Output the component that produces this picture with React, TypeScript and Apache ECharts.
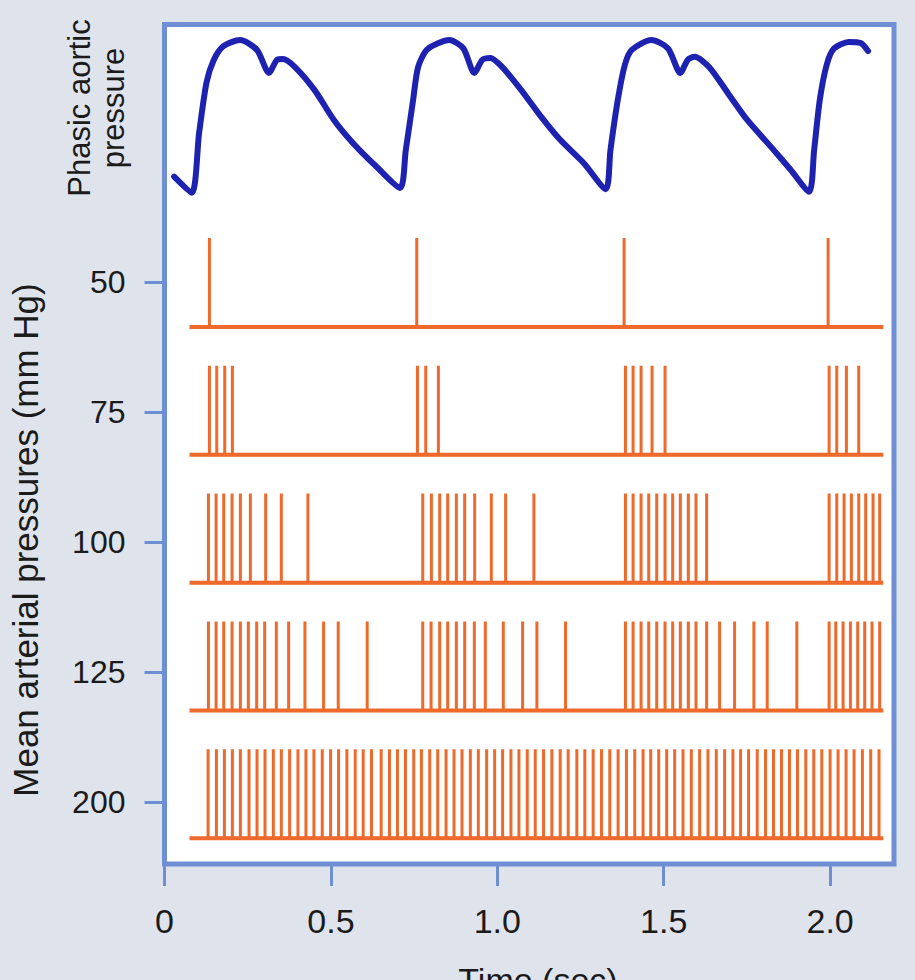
import React, { useEffect, useRef } from "react";
import * as echarts from "echarts";

// ---------- data ----------
const timeTicks = [0, 0.5, 1.0, 1.5, 2.0];
const timeTickLabels = ["0", "0.5", "1.0", "1.5", "2.0"];
const pressureLevels = ["50", "75", "100", "125", "200"];

// phasic aortic pressure trace (time in s, relative pressure)
const aorticTime = [
  0.029, 0.082, 0.104, 0.126, 0.147, 0.177, 0.227, 0.278, 0.314, 0.338, 0.356, 0.392, 0.451, 0.509, 0.566, 0.638, 0.708,
  0.725, 0.747, 0.762, 0.79, 0.856, 0.898, 0.931, 0.955, 0.979, 1.015, 1.072, 1.132, 1.189, 1.26, 1.326,
  1.34, 1.362, 1.383, 1.404, 1.463, 1.513, 1.55, 1.572, 1.593, 1.637, 1.693, 1.751, 1.823, 1.882, 1.937,
  1.952, 1.969, 1.99, 2.012, 2.056, 2.092, 2.114,
];
const aorticPressure = [
  84.3, 80.1, 95.7, 108.8, 114.6, 118.4, 120, 117.4, 111.4, 114.8, 115.0, 112.9, 106.9, 99.1, 93.1, 86.8, 81.3,
  91.2, 104.3, 112.9, 117.6, 120, 117.8, 111.4, 114.8, 115.3, 112.9, 106.9, 99.9, 93.9, 87.8, 81.0,
  91.2, 104.3, 113.4, 117.4, 120, 117.8, 111.4, 114.8, 115.6, 112.9, 106.1, 99.1, 92.0, 86.0, 80.3,
  91.2, 104.3, 113.6, 117.8, 119.5, 119.2, 117.1,
];

// nerve impulse times (s) at each mean arterial pressure
const spikes50 = [0.135, 0.758, 1.381, 1.994];
const spikes75 = [
  0.135, 0.157, 0.181, 0.204,
  0.76, 0.785, 0.823,
  1.385, 1.408, 1.432, 1.465, 1.504,
  1.997, 2.02, 2.049, 2.086,
];
const spikes100 = [
  0.132, 0.155, 0.178, 0.203, 0.228, 0.258, 0.304, 0.351, 0.431,
  0.776, 0.802, 0.827, 0.851, 0.877, 0.902, 0.932, 0.982, 1.025, 1.11,
  1.385, 1.408, 1.432, 1.455, 1.479, 1.504, 1.527, 1.55, 1.574, 1.597, 1.629,
  1.997, 2.02, 2.042, 2.064, 2.086, 2.107, 2.129, 2.149,
];
const spikes125 = [
  0.132, 0.155, 0.178, 0.203, 0.228, 0.252, 0.277, 0.301, 0.336, 0.373, 0.422, 0.478, 0.522, 0.609,
  0.776, 0.801, 0.827, 0.851, 0.877, 0.902, 0.931, 0.964, 1.018, 1.076, 1.119, 1.205,
  1.385, 1.408, 1.432, 1.455, 1.479, 1.504, 1.527, 1.55, 1.574, 1.597, 1.629, 1.668, 1.713, 1.771, 1.811, 1.9,
  1.997, 2.017, 2.039, 2.061, 2.083, 2.104, 2.126, 2.149,
];
const spikes200 = [
  0.131, 0.156, 0.18, 0.204, 0.228, 0.254, 0.278, 0.302, 0.327, 0.351, 0.376, 0.401, 0.425, 0.449, 0.474, 0.499,
  0.523, 0.548, 0.573, 0.597, 0.622,
  0.651, 0.676, 0.7, 0.724, 0.749, 0.772, 0.797, 0.821, 0.846, 0.87, 0.894, 0.919, 0.943, 0.968, 0.992, 1.016,
  1.041, 1.065, 1.09, 1.114, 1.139,
  1.164, 1.189, 1.213, 1.239, 1.263, 1.288, 1.313, 1.338, 1.363, 1.388, 1.413, 1.438, 1.461, 1.485, 1.509, 1.533,
  1.558, 1.583, 1.608, 1.633, 1.658,
  1.683, 1.708, 1.731, 1.755, 1.781, 1.806, 1.83, 1.854, 1.878, 1.902, 1.927, 1.951, 1.975, 2.0, 2.024, 2.048,
  2.072, 2.097, 2.122, 2.147,
];
const spikeTrains = [spikes50, spikes75, spikes100, spikes125, spikes200];
const traceStart = 0.075;
const traceEnd = 2.16;

// ---------- layout / style ----------
const ORANGE = "#ee6a2c";
const BLUE_TRACE = "#1e22b0";
const FRAME = "#6f8fd4";
const TEXT = "#1b1b1b";
const FONT = "Liberation Sans, Arial, Helvetica, sans-serif";
const ROW_FIRST_BASE = 2.347;
const ROW_STEP = 0.983;
const SPIKE_HEIGHT = 0.685;

export default function App() {
  const ref = useRef<HTMLDivElement>(null);

  useEffect(() => {
    if (!ref.current) return;
    const chart = echarts.init(ref.current, null, { renderer: "svg" });

    const rowSeries: any[] = [];
    spikeTrains.forEach((train, i) => {
      const base = ROW_FIRST_BASE + i * ROW_STEP;
      const top = base - SPIKE_HEIGHT;
      const pts: number[][] = [];
      train.forEach((t) => {
        pts.push([t, base], [t, top], [t, base]);
      });
      rowSeries.push({
        type: "line",
        xAxisIndex: 0,
        yAxisIndex: 0,
        data: pts,
        symbol: "none",
        silent: true,
        lineStyle: { color: ORANGE, width: 3, join: "miter" },
      });
      rowSeries.push({
        type: "line",
        xAxisIndex: 0,
        yAxisIndex: 0,
        data: [
          [traceStart, base],
          [traceEnd, base],
        ],
        symbol: "none",
        silent: true,
        lineStyle: { color: ORANGE, width: 4 },
      });
    });

    const option: any = {
      animation: false,
      backgroundColor: "transparent",
      grid: {
        left: 164.5,
        right: 21,
        top: 24.5,
        bottom: 116,
        show: true,
        backgroundColor: "#ffffff",
        borderColor: FRAME,
        borderWidth: 5,
      },
      xAxis: {
        type: "value",
        min: 0,
        max: 2.192,
        axisLine: { show: false, onZero: false },
        splitLine: { show: false },
        axisTick: {
          show: true,
          inside: false,
          length: 22,
          customValues: timeTicks,
          lineStyle: { color: FRAME, width: 3 },
        },
        axisLabel: {
          customValues: timeTicks,
          margin: 40,
          fontSize: 34,
          color: TEXT,
          fontFamily: FONT,
          formatter: (v: number) => timeTickLabels[timeTicks.findIndex((t) => Math.abs(t - v) < 1e-6)] ?? "",
        },
      },
      yAxis: [
        {
          type: "value",
          inverse: true,
          min: 0.02,
          max: 6.477,
          axisLine: { show: false, onZero: false },
          splitLine: { show: false },
          axisTick: {
            show: true,
            inside: false,
            length: 20,
            customValues: [2, 3, 4, 5, 6],
            lineStyle: { color: FRAME, width: 3 },
          },
          axisLabel: {
            customValues: [2, 3, 4, 5, 6],
            margin: 39,
            fontSize: 32,
            color: TEXT,
            fontFamily: FONT,
            formatter: (v: number) => pressureLevels[Math.round(v) - 2] ?? "",
          },
        },
        {
          type: "value",
          min: -95.4,
          max: 124.05,
          show: false,
          splitLine: { show: false },
        },
      ],
      graphic: [
        {
          type: "text",
          x: 25,
          y: 540,
          rotation: Math.PI / 2,
          style: {
            text: "Mean arterial pressures (mm Hg)",
            fontSize: 35,
            fontFamily: FONT,
            fill: TEXT,
            align: "center",
            verticalAlign: "middle",
          },
        },
        {
          type: "text",
          x: 96,
          y: 108,
          rotation: Math.PI / 2,
          style: {
            text: "Phasic aortic\npressure",
            fontSize: 31,
            lineHeight: 34,
            fontFamily: FONT,
            fill: TEXT,
            align: "center",
            verticalAlign: "middle",
          },
        },
        {
          type: "text",
          x: 538,
          y: 963,
          style: {
            text: "Time (sec)",
            fontSize: 34,
            fontFamily: FONT,
            fill: TEXT,
            align: "center",
            verticalAlign: "top",
          },
        },
      ],
      series: [
        ...rowSeries,
        {
          type: "line",
          xAxisIndex: 0,
          yAxisIndex: 1,
          data: aorticTime.map((t, i) => [t, aorticPressure[i]]),
          symbol: "none",
          smooth: 0.25,
          silent: true,
          lineStyle: { color: BLUE_TRACE, width: 6, cap: "round", join: "round" },
        },
      ],
    };

    chart.setOption(option);
    return () => chart.dispose();
  }, []);

  return (
    <div
      style={{
        position: "absolute",
        left: 0,
        top: 0,
        width: 915,
        height: 980,
        background: "#dfe3ec",
        overflow: "hidden",
      }}
    >
      <div ref={ref} style={{ width: 915, height: 980 }} />
    </div>
  );
}
